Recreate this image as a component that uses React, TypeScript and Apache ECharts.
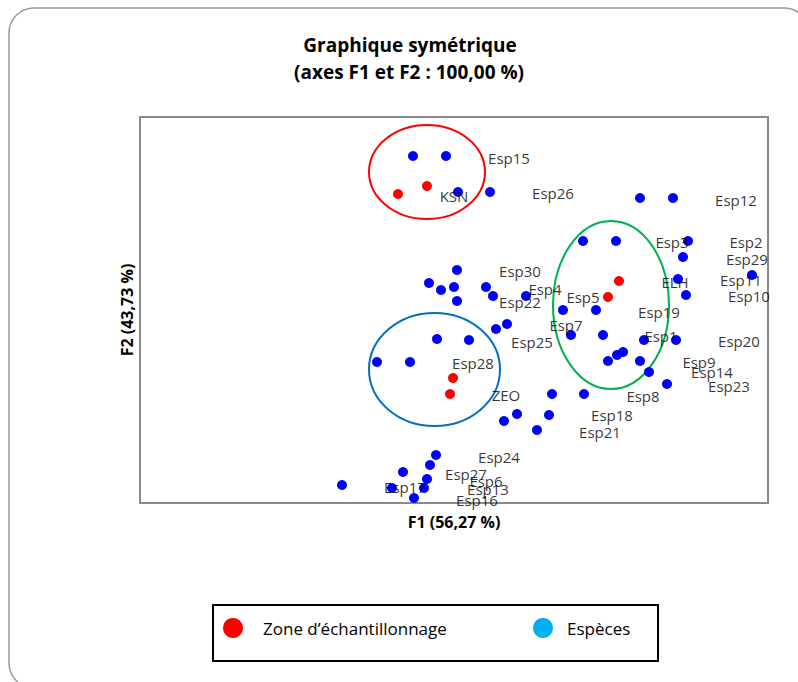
import React, { useEffect, useRef } from "react";
import * as echarts from "echarts";

// F1 / F2 coordinates
const speciesPoints: [number, number][] = [
  [-0.41, 1.54], [-0.08, 1.54], [0.04, 1.18], [0.36, 1.18],
  [1.86, 1.12], [2.19, 1.12], [1.29, 0.69], [1.62, 0.69], [2.34, 0.69],
  [2.29, 0.53], [2.98, 0.35], [2.24, 0.31], [2.32, 0.15],
  [1.09, 0.0], [1.42, 0.0], [1.17, -0.25], [1.49, -0.25], [1.9, -0.3], [2.22, -0.3],
  [1.69, -0.42], [1.63, -0.45], [1.54, -0.51], [1.86, -0.51], [1.95, -0.62], [2.13, -0.74],
  [0.98, -0.84], [1.3, -0.84], [0.95, -1.05],
  [0.03, 0.4], [-0.25, 0.27], [-0.13, 0.2], [0.0, 0.23], [0.03, 0.09],
  [0.32, 0.23], [0.39, 0.14], [0.72, 0.14], [0.53, -0.14], [0.42, -0.19],
  [-0.17, -0.29], [0.15, -0.3], [-0.77, -0.52], [-0.44, -0.52],
  [0.63, -1.04], [0.5, -1.11], [0.83, -1.2],
  [-0.18, -1.45], [-0.24, -1.55], [-0.51, -1.62], [-0.27, -1.69],
  [-0.3, -1.78], [-0.62, -1.78], [-1.12, -1.75], [-0.4, -1.88],
];

const zonePoints: [number, number][] = [
  [-0.56, 1.16], [-0.27, 1.24],
  [1.65, 0.29], [1.54, 0.13],
  [-0.01, -0.68], [-0.04, -0.84],
];

const labelNames = [
  "Esp15", "KSN", "Esp26", "Esp12", "Esp3", "Esp2", "Esp29", "Esp11", "Esp10", "ELH",
  "Esp5", "Esp4", "Esp19", "Esp7", "Esp1", "Esp20", "Esp9", "Esp14", "Esp23", "Esp8",
  "Esp18", "Esp21", "Esp30", "Esp22", "Esp25", "Esp28", "ZEO", "Esp24", "Esp27", "Esp6",
  "Esp13", "Esp16", "Esp17",
];
const labelX = [
  0.55, 0.0, 0.99, 2.82, 2.18, 2.92, 2.93, 2.87, 2.95, 2.21,
  1.29, 0.91, 2.05, 1.12, 2.07, 2.85, 2.45, 2.58, 2.75, 1.89,
  1.58, 1.46, 0.66, 0.66, 0.78, 0.19, 0.52, 0.45, 0.12, 0.32,
  0.34, 0.23, -0.49,
];
const labelY = [
  1.52, 1.14, 1.17, 1.1, 0.68, 0.68, 0.51, 0.3, 0.14, 0.28,
  0.13, 0.21, -0.02, -0.15, -0.26, -0.31, -0.52, -0.62, -0.76, -0.86,
  -1.05, -1.22, 0.39, 0.08, -0.32, -0.53, -0.85, -1.47, -1.64, -1.71,
  -1.79, -1.9, -1.77,
];

// ellipses: centre (F1, F2), radii (F1, F2), colour
const ellipseCenters: [number, number][] = [[-0.27, 1.38], [1.57, 0.05], [-0.195, -0.595]];
const ellipseRadii: [number, number][] = [[0.58, 0.47], [0.58, 0.84], [0.655, 0.565]];
const ellipseColors = ["#ff0000", "#00b050", "#0070c0"];

const FONT = "'Open Sans', 'Noto Sans', sans-serif";

export default function App() {
  const ref = useRef<HTMLDivElement>(null);
  useEffect(() => {
    if (!ref.current) return;
    const chart = echarts.init(ref.current, null, { renderer: "svg" });
    const ellipseData = ellipseCenters.map((c, i) => [c[0], c[1], ellipseRadii[i][0], ellipseRadii[i][1], i]);
    chart.setOption({
      animation: false,
      backgroundColor: "#ffffff",
      grid: {
        left: 140, top: 117, width: 628, height: 386,
        show: true, borderColor: "#8a8a8a", borderWidth: 2,
      },
      xAxis: {
        type: "value", min: -3.14, max: 3.14,
        axisLine: { show: false }, axisTick: { show: false }, axisLabel: { show: false },
        splitLine: { show: false },
        name: "F1 (56,27 %)", nameLocation: "middle", nameGap: 11,
        nameTextStyle: { fontFamily: FONT, fontWeight: "bold", fontSize: 16, color: "#000" },
      },
      yAxis: {
        type: "value", min: -1.93, max: 1.93,
        axisLine: { show: false }, axisTick: { show: false }, axisLabel: { show: false },
        splitLine: { show: false },
        name: "F2 (43,73 %)", nameLocation: "middle", nameGap: 5,
        nameTextStyle: { fontFamily: FONT, fontWeight: "bold", fontSize: 16, color: "#000" },
      },
      graphic: [
        {
          type: "rect", shape: { x: 9, y: 8, width: 800, height: 680, r: 25 },
          style: { fill: "none", stroke: "#9a9a9a", lineWidth: 1.5 }, z: -1,
        },
        {
          type: "text", x: 410, y: 45,
          style: { text: "Graphique symétrique", align: "center", verticalAlign: "middle", font: `bold 19px ${FONT}`, fill: "#000" },
        },
        {
          type: "text", x: 409, y: 72,
          style: { text: "(axes F1 et F2 : 100,00 %)", align: "center", verticalAlign: "middle", font: `bold 19px ${FONT}`, fill: "#000" },
        },
        {
          type: "rect", shape: { x: 213, y: 605, width: 445, height: 56 },
          style: { fill: "#fff", stroke: "#000", lineWidth: 2 },
        },
        { type: "circle", shape: { cx: 233, cy: 628, r: 10 }, style: { fill: "#ff0000" } },
        {
          type: "text", x: 263, y: 628,
          style: { text: "Zone d’échantillonnage", align: "left", verticalAlign: "middle", font: `17px ${FONT}`, fill: "#000" },
        },
        { type: "circle", shape: { cx: 543, cy: 628, r: 10 }, style: { fill: "#00b0f0" } },
        {
          type: "text", x: 567, y: 628,
          style: { text: "Espèces", align: "left", verticalAlign: "middle", font: `17px ${FONT}`, fill: "#000" },
        },
      ],
      series: [
        {
          type: "custom",
          name: "ellipses",
          silent: true,
          clip: false,
          data: ellipseData,
          renderItem: (params: any, api: any) => {
            const c = api.coord([api.value(0), api.value(1)]);
            const s = api.size([api.value(2), api.value(3)]);
            const idx = api.value(4);
            return {
              type: "ellipse",
              shape: { cx: c[0], cy: c[1], rx: s[0], ry: s[1] },
              style: { fill: "none", stroke: ellipseColors[idx], lineWidth: 2 },
            };
          },
        },
        {
          type: "scatter", name: "Espèces", data: speciesPoints,
          symbol: "circle", symbolSize: 10, itemStyle: { color: "#0000ff", opacity: 1 }, silent: true,
        },
        {
          type: "scatter", name: "Zone d’échantillonnage", data: zonePoints,
          symbol: "circle", symbolSize: 10, itemStyle: { color: "#ff0000", opacity: 1 }, silent: true,
        },
        {
          type: "scatter", name: "labels", silent: true,
          symbolSize: 0,
          data: labelNames.map((n, i) => ({ name: n, value: [labelX[i], labelY[i]] })),
          label: {
            show: true, position: "inside", formatter: "{b}",
            color: "#000", fontSize: 15, fontFamily: FONT, textBorderWidth: 0,
          },
          z: 5,
        },
      ],
    });
    return () => chart.dispose();
  }, []);
  return (
    <div
      ref={ref}
      style={{ position: "absolute", left: 0, top: 0, width: 798, height: 682 }}
    />
  );
}
